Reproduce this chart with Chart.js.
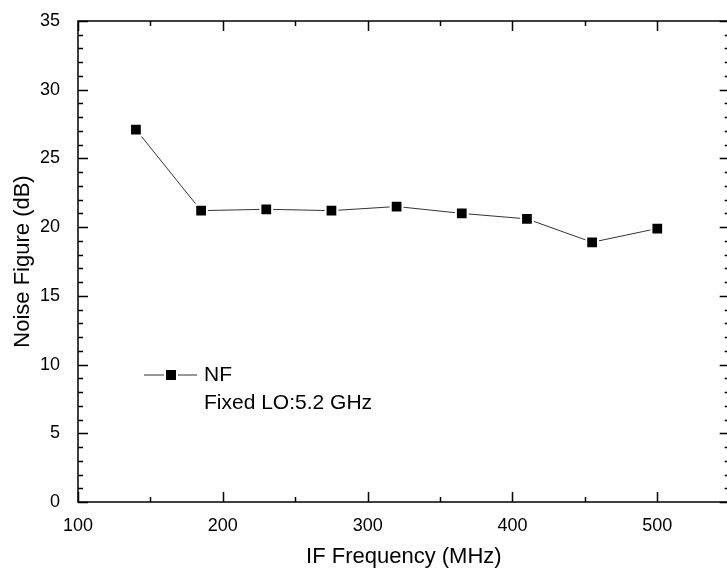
<!DOCTYPE html>
<html>
<head>
<meta charset="utf-8">
<script src="https://cdn.jsdelivr.net/npm/chart.js@4"></script>
<style>
  html, body { margin: 0; padding: 0; background: #fff; overflow: hidden; }
  #wrap { width: 740px; height: 572px; }
</style>
</head>
<body>
<div id="wrap"><canvas id="nfChart" width="740" height="572"></canvas></div>
<script>
  "use strict";
  var FONT = "'Liberation Sans', Arial, sans-serif";

  // IF frequency (MHz) and measured noise figure (dB)
  var freqs = [140, 185, 230, 275, 320, 365, 410, 455, 500];
  var noiseFig = [27.1, 21.2, 21.3, 21.2, 21.5, 21.0, 20.6, 18.9, 19.9];
  var xTicks = [100, 200, 300, 400, 500];
  var yTicks = [0, 5, 10, 15, 20, 25, 30, 35];
  var legendLines = ["NF", "Fixed LO:5.2 GHz"];

  // Origin style frame with inward ticks on all four sides
  var frame = {
    id: "frame",
    afterDraw: function (c) {
      var ctx = c.ctx, a = c.chartArea, xs = c.scales.x, ys = c.scales.y;
      ctx.save();
      ctx.strokeStyle = "#000";
      ctx.lineWidth = 1.5;
      ctx.strokeRect(a.left, a.top, a.right - a.left, a.bottom - a.top);
      ctx.beginPath();
      var v, px, len;
      for (v = 100; v <= 550; v += 50) {
        px = Math.round(xs.getPixelForValue(v)) + 0.5;
        len = v % 100 === 0 ? 10 : 5;
        ctx.moveTo(px, a.bottom); ctx.lineTo(px, a.bottom - len);
        ctx.moveTo(px, a.top); ctx.lineTo(px, a.top + len);
      }
      for (v = 0; v <= 35; v += 1) {
        px = Math.round(ys.getPixelForValue(v)) + 0.5;
        len = v % 5 === 0 ? 10 : 5;
        ctx.moveTo(a.left, px); ctx.lineTo(a.left + len, px);
        ctx.moveTo(a.right, px); ctx.lineTo(a.right - len, px);
      }
      ctx.stroke();

      // legend + note
      var ly = 375;
      ctx.beginPath();
      ctx.lineWidth = 1;
      ctx.strokeStyle = "#333";
      ctx.moveTo(144, ly); ctx.lineTo(197, ly);
      ctx.stroke();
      ctx.fillStyle = "#fff";
      ctx.fillRect(164, ly - 7, 14, 14);
      ctx.fillStyle = "#000";
      ctx.fillRect(166, ly - 5, 10, 10);
      ctx.font = "21px " + FONT;
      ctx.textBaseline = "middle";
      ctx.textAlign = "left";
      ctx.fillText(legendLines[0], 204, ly);
      ctx.fillText(legendLines[1], 204, ly + 28);
      ctx.restore();
    }
  };

  new Chart(document.getElementById("nfChart"), {
    type: "line",
    data: {
      datasets: [{
        label: "NF",
        data: freqs.map(function (f, i) { return { x: f, y: noiseFig[i] }; }),
        borderColor: "#333",
        borderWidth: 1,
        backgroundColor: "#000",
        pointStyle: "rect",
        pointRadius: 8.3,
        pointBorderColor: "#fff",
        pointBorderWidth: 2,
        pointBackgroundColor: "#000",
        tension: 0
      }]
    },
    options: {
      responsive: false,
      animation: false,
      layout: { padding: { left: 0, top: 21, right: 10, bottom: 0 } },
      plugins: { legend: { display: false }, tooltip: { enabled: false } },
      scales: {
        x: {
          type: "linear",
          min: 100, max: 550,
          grid: { display: false },
          border: { display: false },
          afterFit: function (s) { s.height = 70; },
          afterBuildTicks: function (s) { s.ticks = xTicks.map(function (v) { return { value: v }; }); },
          ticks: { color: "#000", padding: 5, font: { family: FONT, size: 18 } },
          title: { display: true, text: "IF Frequency (MHz)", color: "#000", padding: { top: 0, bottom: 2 }, font: { family: FONT, size: 22 } }
        },
        y: {
          min: 0, max: 35,
          grid: { display: false },
          border: { display: false },
          afterFit: function (s) { s.width = 78; },
          afterBuildTicks: function (s) { s.ticks = yTicks.map(function (v) { return { value: v }; }); },
          ticks: { color: "#000", padding: 10, font: { family: FONT, size: 18 } },
          title: { display: true, text: "Noise Figure (dB)", color: "#000", padding: { top: 10, bottom: 0 }, font: { family: FONT, size: 22 } }
        }
      }
    },
    plugins: [frame]
  });
</script>
</body>
</html>
